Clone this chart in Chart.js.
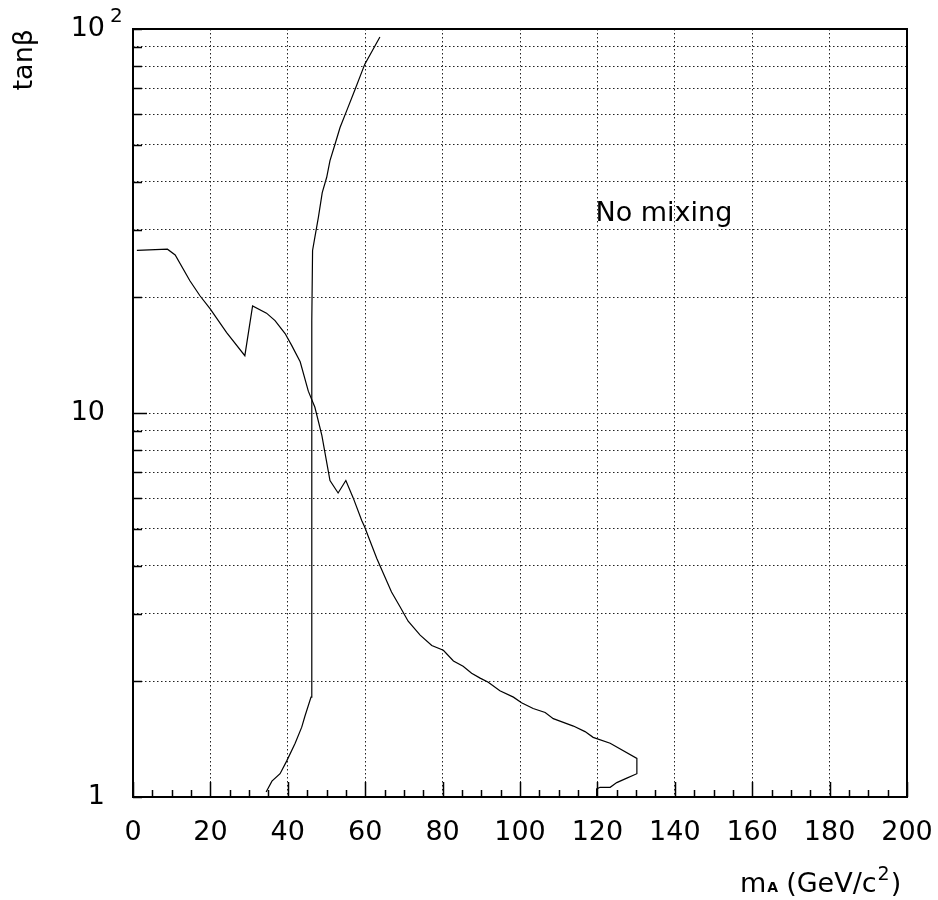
<!DOCTYPE html>
<html>
<head>
<meta charset="utf-8">
<title>tan beta vs m_A - no mixing</title>
<script src="https://cdn.jsdelivr.net/npm/chart.js@4.4.0/dist/chart.umd.min.js"></script>
<style>
  html, body { margin: 0; padding: 0; background: #fff; }
</style>
</head>
<body>
<canvas id="chart" width="938" height="900"></canvas>
<script>
// Axis ticks
const xTicks = [0, 20, 40, 60, 80, 100, 120, 140, 160, 180, 200];
const yTicks = [1, 2, 3, 4, 5, 6, 7, 8, 9, 10, 20, 30, 40, 50, 60, 70, 80, 90, 100];
const yLabels = { 1: '1', 10: '10' };

// Falling boundary curve (m_A, tan beta)
const boundaryX = [1, 8.9, 10.9, 14.7, 17.3, 19.9, 24.2, 28.9, 30.9, 34.5, 36.7, 39.3, 41.0, 43.2,
  45.3, 47.0, 48.8, 50.9, 53.0, 55.0, 56.9, 59.1, 59.9, 60.8, 63.0, 64.7, 66.8, 69.0, 71.1, 74.2,
  77.2, 80.2, 82.8, 85.3, 87.5, 89.7, 91.8, 94.8, 98.3, 100.4, 103.4, 106.5, 108.6, 113.8, 116.8,
  118.9, 123.3, 130.2, 130.2, 127.6, 125.0, 123.3, 120.7, 119.8, 119.8];
const boundaryY = [26.5, 26.7, 25.8, 22.1, 20.2, 18.7, 16.2, 14.1, 19.0, 18.2, 17.4, 16.1, 15.0, 13.6,
  11.4, 10.35, 8.74, 6.67, 6.19, 6.67, 6.01, 5.25, 5.04, 4.77, 4.18, 3.82, 3.42, 3.13, 2.87, 2.64,
  2.48, 2.41, 2.26, 2.19, 2.10, 2.04, 1.99, 1.89, 1.82, 1.76, 1.70, 1.66, 1.60, 1.53, 1.48,
  1.43, 1.38, 1.26, 1.15, 1.12, 1.09, 1.06, 1.06, 1.05, 1.0];

// Steep curve rising near m_A ~ 46
const steepX = [34.4, 35.9, 38.0, 39.7, 41.9, 43.6, 44.4, 46.0, 46.2, 46.4, 47.0, 47.9, 48.9, 50.05,
  50.9, 52.2, 53.5, 55.2, 57.4, 59.9, 63.8];
const steepY = [1.03, 1.10, 1.15, 1.24, 1.38, 1.52, 1.62, 1.82, 17.4, 26.5, 28.7, 32.3, 37.5, 41.1,
  45.4, 50.1, 55.4, 61.2, 69.7, 81.0, 95.3];

const FONT = "'DejaVu Sans', sans-serif";

function toPoints(xs, ys) {
    return xs.map((x, i) => ({ x: x, y: ys[i] }));
}

// frame, inner tick marks and extra texts
const decorPlugin = {
    id: 'decor',
    afterDatasetsDraw(chart) {
        const { ctx, chartArea: a, scales: { x, y } } = chart;
        ctx.save();
        ctx.strokeStyle = '#000';
        ctx.lineWidth = 1.5;

        // x ticks pointing up from bottom axis
        ctx.beginPath();
        for (let v = 0; v <= 200; v += 5) {
            const px = Math.round(x.getPixelForValue(v)) + 0.5;
            const len = v % 20 === 0 ? 15 : 7;
            ctx.moveTo(px, a.bottom);
            ctx.lineTo(px, a.bottom - len);
        }
        // y ticks pointing right from left axis
        yTicks.forEach(v => {
            const py = Math.round(y.getPixelForValue(v)) + 0.5;
            const len = (v === 10) ? 14 : 9;
            ctx.moveTo(a.left, py);
            ctx.lineTo(a.left + len, py);
        });
        ctx.stroke();

        // frame
        ctx.lineWidth = 2;
        ctx.strokeRect(a.left, a.top, a.right - a.left, a.bottom - a.top);

        ctx.fillStyle = '#000';
        // 10^2 label
        ctx.textBaseline = 'middle';
        ctx.textAlign = 'right';
        ctx.font = '27px ' + FONT;
        ctx.fillText('10', a.left - 28, y.getPixelForValue(100));
        ctx.textAlign = 'left';
        ctx.font = '20px ' + FONT;
        ctx.fillText('2', a.left - 23, y.getPixelForValue(100) - 12);

        // annotation
        ctx.font = '27px ' + FONT;
        ctx.fillText('No mixing', x.getPixelForValue(119.5), y.getPixelForValue(33));

        // x axis title: m_A (GeV/c^2)
        ctx.textBaseline = 'alphabetic';
        let tx = 740;
        const base = 892;
        ctx.font = '27px ' + FONT;
        ctx.fillText('m', tx, base);
        tx += ctx.measureText('m').width + 1;
        ctx.font = 'bold 14px ' + FONT;
        ctx.fillText('A', tx, base);
        tx += ctx.measureText('A').width + 8;
        ctx.font = '27px ' + FONT;
        ctx.fillText('(GeV/c', tx, base);
        tx += ctx.measureText('(GeV/c').width + 1;
        ctx.font = '19px ' + FONT;
        ctx.fillText('2', tx, base - 12);
        tx += ctx.measureText('2').width + 1;
        ctx.font = '27px ' + FONT;
        ctx.fillText(')', tx, base);

        ctx.restore();
    }
};

const lineStyle = {
    showLine: true,
    borderColor: '#000',
    borderWidth: 1.2,
    pointRadius: 0,
    fill: false,
    tension: 0
};

new Chart(document.getElementById('chart'), {
    type: 'scatter',
    data: {
        datasets: [
            { label: 'boundary', data: toPoints(boundaryX, boundaryY), ...lineStyle },
            { label: 'steep', data: toPoints(steepX, steepY), ...lineStyle }
        ]
    },
    options: {
        responsive: false,
        animation: false,
        devicePixelRatio: 1,
        layout: { autoPadding: false, padding: { top: 29, right: 31, bottom: 0, left: 0 } },
        plugins: {
            legend: { display: false },
            tooltip: { enabled: false }
        },
        scales: {
            x: {
                type: 'linear',
                min: 0,
                max: 200,
                afterBuildTicks: s => { s.ticks = xTicks.map(v => ({ value: v })); },
                afterFit: s => {
                    s.height = 103;
                    s.paddingLeft = 0;
                    s.paddingRight = 0;
                },
                grid: { color: '#222', lineWidth: 1, drawTicks: false },
                border: { display: false, dash: [1.5, 2.5] },
                ticks: {
                    color: '#000',
                    font: { family: FONT, size: 27 },
                    padding: 20,
                    maxRotation: 0,
                    autoSkip: false
                }
            },
            y: {
                type: 'logarithmic',
                min: 1,
                max: 100,
                afterBuildTicks: s => { s.ticks = yTicks.map(v => ({ value: v })); },
                afterFit: s => {
                    s.width = 133;
                    s.paddingTop = 0;
                    s.paddingBottom = 0;
                },
                grid: { color: '#222', lineWidth: 1, drawTicks: false },
                border: { display: false, dash: [1.5, 2.5] },
                ticks: {
                    color: '#000',
                    font: { family: FONT, size: 27 },
                    padding: 28,
                    autoSkip: false,
                    callback: v => yLabels[v] || ''
                },
                title: {
                    display: true,
                    text: 'tanβ',
                    align: 'end',
                    color: '#000',
                    font: { family: FONT, size: 27 },
                    padding: { top: 9, bottom: 0 }
                }
            }
        }
    },
    plugins: [decorPlugin]
});
</script>
</body>
</html>
